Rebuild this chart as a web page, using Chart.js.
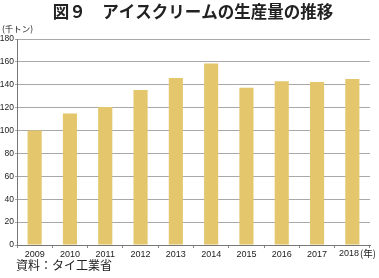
<!DOCTYPE html>
<html><head><meta charset="utf-8">
<script src="https://cdn.jsdelivr.net/npm/chart.js@4/dist/chart.umd.min.js"></script>
<style>html,body{margin:0;padding:0;background:#fff;}#wrap{width:379px;height:278px;position:relative;}</style>
</head><body><div id="wrap"><canvas id="c" width="379" height="278"></canvas></div>
<script>
const categories = ["2009","2010","2011","2012","2013","2014","2015","2016","2017","2018"];
const production = [100, 115, 120.5, 135.5, 146, 158.5, 137.5, 143, 142.5, 145];
const yTicks = [0,20,40,60,80,100,120,140,160,180];
const titleText = "図９　アイスクリームの生産量の推移";
const unitText = "(千トン)";
const yearText = "(年)";
const sourceText = "資料：タイ工業省";

const FONT = "'Liberation Sans', Arial, sans-serif";
const JFONT = "'Noto Sans CJK JP', sans-serif";

const textPlugin = {
  id: 'texts',
  afterDraw(chart) {
    const ctx = chart.ctx;
    ctx.save();
    ctx.fillStyle = '#222';
    ctx.textBaseline = 'middle';
    ctx.font = "bold 16.5px " + JFONT;
    ctx.textAlign = 'center';
    ctx.fillText(titleText, 193, 12);
    ctx.font = "8.5px " + JFONT;
    ctx.textAlign = 'left';
    ctx.fillText(unitText, 2, 29);
    ctx.font = "12px " + JFONT;
    ctx.fillText(sourceText, 16, 265);
    const last = categories.length - 1;
    ctx.font = "9px " + FONT;
    ctx.textAlign = 'right';
    ctx.fillText(categories[last], 359, 253.5);
    ctx.font = "9.5px " + JFONT;
    ctx.textAlign = 'left';
    ctx.fillText(yearText, 360, 253);
    ctx.restore();
  }
};

new Chart(document.getElementById('c'), {
  type: 'bar',
  data: { labels: categories, datasets: [{ data: production, backgroundColor: '#e4c66c', barPercentage: 0.4, categoryPercentage: 1 }] },
  options: {
    responsive: false, animation: false,
    layout: { padding: { left: 0, right: 9, top: 39, bottom: 13 } },
    plugins: { legend: { display: false }, tooltip: { enabled: false } },
    scales: {
      x: {
        grid: { drawOnChartArea: false, drawTicks: true, tickLength: 3, offset: true, color: '#888' },
        border: { color: '#777' },
        ticks: { font: { family: FONT, size: 9 }, color: '#222', padding: 1, maxRotation: 0,
                 callback(v, i) { return i === categories.length - 1 ? '' : categories[i]; } },
        afterFit(s) { s.height = 20; }
      },
      y: {
        min: 0, max: 180,
        afterBuildTicks(s) { s.ticks = yTicks.map(v => ({ value: v })); },
        grid: { color: '#a8a8a8', tickLength: 2, lineWidth: 1 },
        border: { color: '#777' },
        ticks: { font: { family: FONT, size: 8.5 }, color: '#222', padding: 1 },
        afterFit(s) { s.width = 17; }
      }
    }
  },
  plugins: [textPlugin]
});
</script></body></html>
